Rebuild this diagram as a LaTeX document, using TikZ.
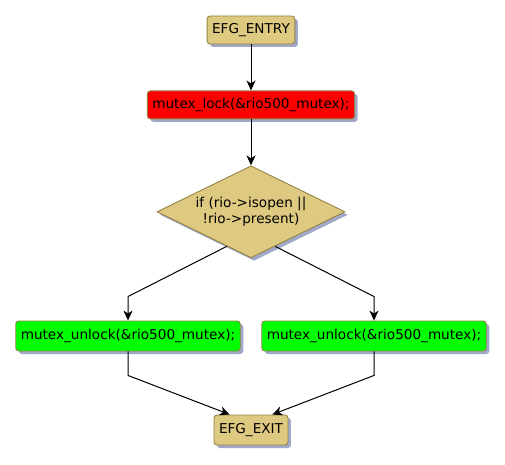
\documentclass[tikz,border=0pt]{standalone}
\usepackage{fontspec}
\setmainfont{DejaVu Sans}
\usetikzlibrary{positioning, shapes.geometric, shadows, arrows.meta}
\definecolor{tan}{RGB}{222,201,128}
\definecolor{tanline}{RGB}{150,130,70}
\definecolor{shade}{RGB}{160,170,200}
\tikzstyle{base} = [draw=tanline, line width=0.9pt, rounded corners=3pt, minimum height=28pt, inner xsep=5pt, inner ysep=0pt, align=center,
	font=\fontsize{13.6}{15.5}\selectfont, drop shadow={shadow xshift=3pt, shadow yshift=-3pt, fill=shade, opacity=1}]
\tikzstyle{term} = [base, fill=tan]
\tikzstyle{lockbox} = [base, fill=red]
\tikzstyle{unlockbox} = [base, fill=green, minimum height=30pt]
\tikzstyle{decision} = [diamond, draw=tanline, line width=0.9pt, fill=tan, aspect=2.04, inner sep=0pt, minimum width=188pt, minimum height=92pt,
	align=center, font=\fontsize{13.6}{15.5}\selectfont, drop shadow={shadow xshift=3pt, shadow yshift=-3pt, fill=shade, opacity=1}]
\tikzstyle{line} = [draw, line width=1pt, -{Stealth[length=10pt, width=9pt, inset=3pt]}]

\begin{document}
\begin{tikzpicture}[x=1pt, y=1pt]
		\useasboundingbox (0,0) rectangle (505,464);
		\node[term] (entry) at (251,434) {EFG\_ENTRY};
		\node[lockbox, below=46pt of entry] (lock) {mutex\_lock(\&rio500\_mutex);};
		\node[decision, below=46pt of lock] (dec) {if (rio->isopen ||\\!rio->present)};
		\node[unlockbox] (ul) at (128,128) {mutex\_unlock(\&rio500\_mutex);};
		\node[unlockbox] (ur) at (374,128) {mutex\_unlock(\&rio500\_mutex);};
		\node[term, minimum height=30pt] (exit) at (251,34) {EFG\_EXIT};
		
		\path[line] (entry) -- (lock);
		\path[line] (lock) -- (dec);
		\path[line] (dec.-125) -- ([yshift=24pt]ul.north) -- (ul.north);
		\path[line] (dec.-55) -- ([yshift=24pt]ur.north) -- (ur.north);
		\path[line] (ul.south) -- ([yshift=-24pt]ul.south) -- (exit.144);
		\path[line] (ur.south) -- ([yshift=-24pt]ur.south) -- (exit.36);
	\end{tikzpicture}
\end{document}
